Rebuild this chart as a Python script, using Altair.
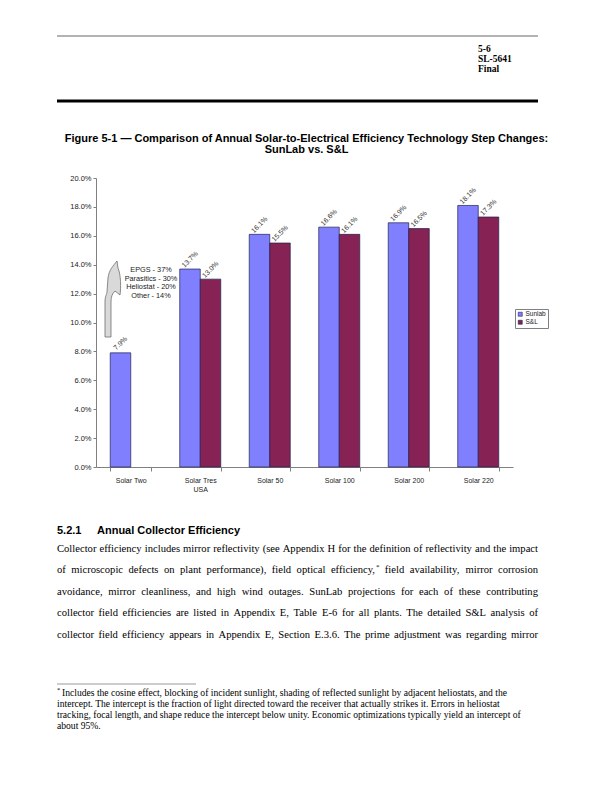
import altair as alt
import pandas as pd

# ---------------- data ----------------
CATEGORIES = ["Solar Two", "Solar Tres USA", "Solar 50", "Solar 100", "Solar 200", "Solar 220"]
SUNLAB = [7.9, 13.7, 16.1, 16.6, 16.9, 18.1]
SANDL = [None, 13.0, 15.5, 16.1, 16.5, 17.3]
SERIES = ["Sunlab", "S&L"]
COLORS = ["#8080FF", "#862254"]
Y_TICKS = [0, 2, 4, 6, 8, 10, 12, 14, 16, 18, 20]

ANNOT_LINES = ["EPGS - 37%", "Parasitics - 30%", "Heliostat - 20%", "Other - 14%"]
HEADER_LINES = ["5-6", "SL-5641", "Final"]
TITLE_LINES = [
    "Figure 5-1 \u2014 Comparison of Annual Solar-to-Electrical Efficiency Technology Step Changes:",
    "SunLab vs. S&L",
]
SECTION_NUM = "5.2.1"
SECTION_TITLE = "Annual Collector Efficiency"
BODY_LINES = [
    "Collector efficiency includes mirror reflectivity (see Appendix H for the definition of reflectivity and the impact",
    "of microscopic defects on plant performance), field optical efficiency,* field availability, mirror corrosion",
    "avoidance, mirror cleanliness, and high wind outages. SunLab projections for each of these contributing",
    "collector field efficiencies are listed in Appendix E, Table E-6 for all plants. The detailed S&L analysis of",
    "collector field efficiency appears in Appendix E, Section E.3.6. The prime adjustment was regarding mirror",
]
FOOT_LINES = [
    "Includes the cosine effect, blocking of incident sunlight, shading of reflected sunlight by adjacent heliostats, and the",
    "intercept. The intercept is the fraction of light directed toward the receiver that actually strikes it. Errors in heliostat",
    "tracking, focal length, and shape reduce the intercept below unity. Economic optimizations typically yield an intercept of",
    "about 95%.",
]

rows = []
for cat, a, b in zip(CATEGORIES, SUNLAB, SANDL):
    rows.append({"plant": cat, "series": "Sunlab", "eff": a})
    if b is not None:
        rows.append({"plant": cat, "series": "S&L", "eff": b})
df = pd.DataFrame(rows)

# ---------------- layout ----------------
W, H = 417, 289
X0, Y0 = 96, 178  # page position of plot origin


def px(x):
    return x - X0


def py(y):
    return y - Y0


SANS = "Liberation Sans"
SERIF = "Liberation Serif"

# Times (Liberation Serif) advance widths, 1/1000 em, for justification
_TW = {
    " ": 250, ",": 250, ".": 250, "(": 333, ")": 333, "-": 333, "&": 778, "*": 500,
    ":": 278, "%": 833,
    "a": 444, "b": 500, "c": 444, "d": 500, "e": 444, "f": 333, "g": 500, "h": 500,
    "i": 278, "j": 278, "k": 500, "l": 278, "m": 778, "n": 500, "o": 500, "p": 500,
    "q": 500, "r": 333, "s": 389, "t": 278, "u": 500, "v": 500, "w": 722, "x": 500,
    "y": 500, "z": 444,
    "A": 722, "B": 667, "C": 667, "D": 722, "E": 611, "F": 556, "G": 722, "H": 722,
    "I": 333, "J": 389, "K": 722, "L": 611, "M": 889, "N": 722, "O": 722, "P": 556,
    "Q": 722, "R": 667, "S": 556, "T": 611, "U": 722, "V": 722, "W": 944, "X": 722,
    "Y": 722, "Z": 611,
}


def tw(s, size):
    return sum(_TW.get(c, 500) for c in s) * size / 1000.0


def txt(s, x, y, size, font, weight="normal", align="left", color="black"):
    return alt.Chart(alt.Data(values=[{}])).mark_text(
        text=s, align=align, baseline="middle", font=font, fontSize=size,
        fontWeight=weight, color=color
    ).encode(x=alt.value(px(x)), y=alt.value(py(y)))


def hrule(x1, x2, y, width, color):
    return alt.Chart(alt.Data(values=[{}])).mark_rule(
        color=color, strokeWidth=width
    ).encode(x=alt.value(px(x1)), x2=alt.value(px(x2)), y=alt.value(py(y)))


def justified(line, x_left, x_right, y, size):
    words = line.split(" ")
    sup = 7.0
    widths = []
    for w in words:
        if w.endswith("*"):
            widths.append(tw(w[:-1], size) + tw("*", sup))
        else:
            widths.append(tw(w, size))
    gap = (x_right - x_left - sum(widths)) / (len(words) - 1)
    out = []
    x = x_left
    for w, wd in zip(words, widths):
        if w.endswith("*"):
            out.append(txt(w[:-1], x, y, size, SERIF))
            out.append(txt("*", x + tw(w[:-1], size), y - 3.5, sup, SERIF))
        else:
            out.append(txt(w, x, y, size, SERIF))
        x += wd + gap
    return out


x_enc = alt.X(
    "plant:N", sort=CATEGORIES,
    scale=alt.Scale(paddingInner=0.41, paddingOuter=0.205),
    axis=alt.Axis(
        title=None, labelAngle=0, tickBand="extent", tickSize=4,
        domainColor="#808080", tickColor="#808080", labelFont=SANS,
        labelFontSize=7, labelColor="#222222", labelPadding=5, labelLineHeight=9,
        labelExpr="datum.label == 'Solar Tres USA' ? ['Solar Tres', 'USA'] : datum.label",
    ),
)
xoff = alt.XOffset("series:N", sort=SERIES, scale=alt.Scale(domain=SERIES, paddingInner=0, paddingOuter=0))

y_scale = alt.Scale(domain=[0, 20], nice=False)
y_axis = alt.Axis(
    title=None, values=Y_TICKS, grid=False, tickSize=3, labelOverlap=False,
    labelExpr="format(datum.value, '.1f') + '%'", labelFont=SANS,
    labelFontSize=7.5, labelColor="#222222", labelPadding=2,
    domainColor="#808080", tickColor="#808080",
)

base = alt.Chart(df)

bars = base.mark_bar(stroke="#202050", strokeWidth=0.7).encode(
    x=x_enc,
    xOffset=xoff,
    y=alt.Y("eff:Q", scale=y_scale, axis=y_axis),
    color=alt.Color(
        "series:N", scale=alt.Scale(domain=SERIES, range=COLORS),
        legend=alt.Legend(
            title=None, orient="none", legendX=px(515), legendY=py(309),
            symbolType="square", symbolSize=16, symbolStrokeWidth=0.6,
            labelFont=SANS, labelFontSize=6.5, labelColor="#222222",
            rowPadding=1, padding=2, strokeColor="#808080", fillColor="white",
            labelOffset=2, symbolOffset=0,
        ),
    ),
)

labels = base.transform_calculate(
    ly="datum.eff + 0.65", lab="format(datum.eff, '.1f') + '%'"
).mark_text(
    angle=315, align="center", baseline="middle", font=SANS, fontSize=7, color="#333333"
).encode(x=x_enc, xOffset=xoff, y=alt.Y("ly:Q", scale=y_scale, axis=y_axis), text="lab:N")

ARROW = (
    "M -0.195 1 L -0.195 0.091 C -0.195 -0.065 -0.143 -0.117 -0.143 -0.169 "
    "L -0.117 -0.532 C -0.091 -0.740 0.013 -0.844 0.117 -0.974 "
    "L 0.143 -0.792 C 0.221 -0.610 0.221 -0.273 0.195 -0.091 "
    "L 0.065 -0.195 C -0.013 -0.117 -0.039 -0.039 -0.039 0.091 "
    "L -0.039 1 Z"
)
arrow = alt.Chart(alt.Data(values=[{}])).mark_point(
    shape=ARROW, size=77 * 77, filled=True, fill="#d9d9d9", stroke="#6e6e6e",
    strokeWidth=0.8, opacity=1,
).encode(x=alt.value(px(112.5)), y=alt.value(py(298.5)))

layers = [bars, labels, arrow]
for i, s in enumerate(ANNOT_LINES):
    layers.append(txt(s, 151, 270 + i * 8.5, 7.3, SANS, align="center", color="#222222"))

# page furniture
layers.append(hrule(57, 538, 36, 1.5, "#9a9a9a"))
for i, s in enumerate(HEADER_LINES):
    layers.append(txt(s, 478, 48.5 + i * 10, 9.5, SERIF, weight="bold"))
layers.append(hrule(57, 538, 101, 3, "#000000"))
for i, s in enumerate(TITLE_LINES):
    layers.append(txt(s, 306.5, 139 + i * 11, 11, SANS, weight="bold", align="center"))
layers.append(txt(SECTION_NUM, 57, 531, 11, SANS, weight="bold"))
layers.append(txt(SECTION_TITLE, 97, 531, 11, SANS, weight="bold"))
for i, s in enumerate(BODY_LINES):
    layers.extend(justified(s, 57, 538, 549 + i * 21.4, 10.6))
layers.append(hrule(57, 196, 684, 0.8, "#808080"))
layers.append(txt("*", 57, 690, 6.5, SERIF))
for i, s in enumerate(FOOT_LINES):
    layers.append(txt(s, 57 if i else 62, 693 + i * 11, 9.6, SERIF))

chart = alt.layer(*layers).properties(
    width=W, height=H,
    autosize=alt.AutoSizeParams(type="none"),
    padding={"left": X0 - 8, "top": Y0 - 8, "right": 596 - (X0 - 8) - W, "bottom": 776 - (Y0 - 8) - H},
    background="white",
).configure_view(stroke=None)

chart.save("out.html", embed_options={"renderer": "svg", "actions": False})
